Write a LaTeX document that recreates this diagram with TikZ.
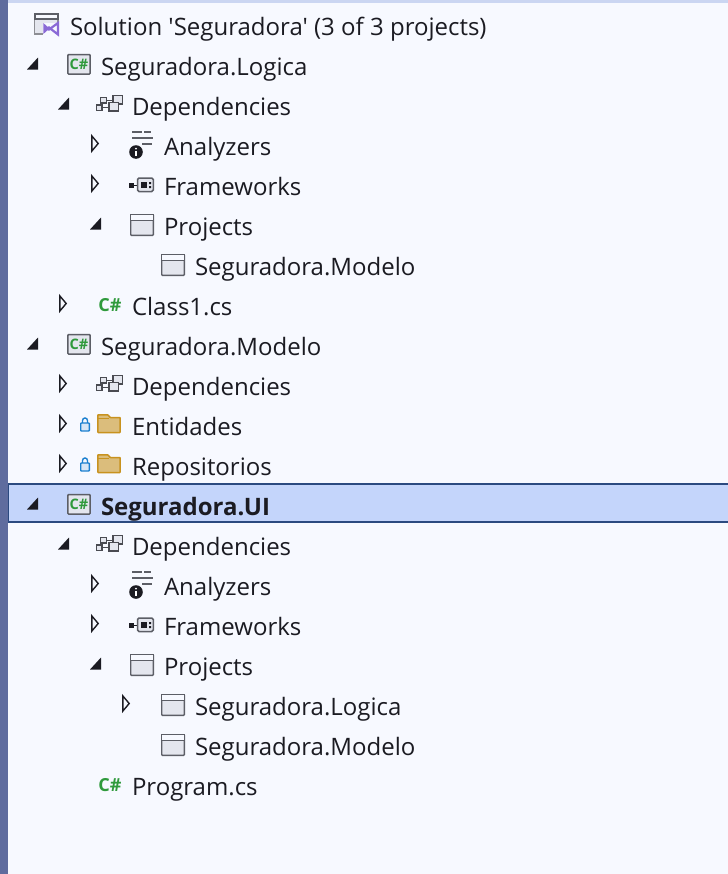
\documentclass[tikz,border=0pt]{standalone}
\usepackage{fontspec}
\setmainfont{Open Sans}[Ligatures=TeXOff]
\definecolor{bgc}{HTML}{F7F9FF}
\definecolor{barc}{HTML}{5F6C9E}
\definecolor{topc}{HTML}{CBD6F2}
\definecolor{selc}{HTML}{C4D5FB}
\definecolor{selb}{HTML}{2B4A80}
\definecolor{txt}{HTML}{1B1B22}
\definecolor{icon}{HTML}{5C5E66}
\definecolor{iconf}{HTML}{E4E6EE}
\definecolor{csg}{HTML}{2F9A3C}
\definecolor{vsp}{HTML}{8A6AD6}
\definecolor{fold}{HTML}{DBBD7C}
\definecolor{foldb}{HTML}{C8921F}
\definecolor{lockb}{HTML}{1C80D0}
\definecolor{lockf}{HTML}{D8E6F6}
\tikzset{
  x=1bp,y=-1bp,
  rowtext/.style={anchor=base west,inner sep=0pt,outer sep=0pt,text=txt,font=\fontsize{24bp}{28bp}\selectfont},
  opentri/.pic={\draw[txt,line width=1.4bp,fill=bgc,line join=miter] (0.8,-7.6)--(7.2,0)--(0.8,7.6)--cycle;},
  filltri/.pic={\fill[txt] (11,-6.5)--(11,5.5)--(0,5.5)--cycle;},
  winicon/.pic={
    \draw[icon,line width=1.4bp,fill=iconf,rounded corners=0.8bp] (0.7,-11.3) rectangle (23.3,9.3);
    \draw[icon,line width=1.4bp,fill=bgc] (0.7,-11.3) rectangle (23.3,-5.5);},
  csprojicon/.pic={
    \draw[icon,line width=1.5bp,fill=#1,rounded corners=0.8bp] (0.8,-10.3) rectangle (23.2,9);
    \node[inner sep=0pt,text=csg,font=\fontsize{14.5bp}{15bp}\selectfont\bfseries] at (12,-0.7) {C\#};},
  depicon/.pic={
    \draw[icon!80!black,line width=1.5bp,fill=iconf] (4.5,-8.5) rectangle (10.5,-3);
    \draw[icon!80!black,line width=1.5bp,fill=iconf] (17,-10.5) rectangle (26.5,-2);
    \draw[icon!80!black,line width=1.5bp] (10.5,-5.5)--(17,-5.5);
    \draw[icon!80!black,line width=1.5bp] (6,-3)--(6,-1);
    \draw[icon!80!black,line width=1.5bp,fill=iconf] (0.7,-1) rectangle (6,4.5);
    \draw[icon!80!black,line width=1.5bp] (6,1.5)--(13,1.5);
    \draw[icon!80!black,line width=1.5bp,fill=iconf] (13,-3.5) rectangle (22.5,5);},
  anaicon/.pic={
    \draw[icon,line width=1.3bp] (3,-14)--(13,-14) (15,-14)--(22,-14) (3,-8)--(24,-8) (13,-2)--(23,-2);
    \fill[txt] (7,6) circle (6.8);
    \fill[white] (7,2.6) circle (1.1);
    \fill[white] (6,4.6) rectangle (8,9.5);},
  fwicon/.pic={
    \fill[txt] (0,-3) rectangle (5,2);
    \draw[txt,line width=1.3bp] (5,-0.5)--(8.5,-0.5);
    \draw[icon,line width=1.5bp,fill=iconf,rounded corners=1.5bp] (8.5,-8) rectangle (24.3,5.5);
    \fill[txt] (12.3,-4) rectangle (18,2);
    \fill[txt] (20,-4) rectangle (22,-2) (20,0) rectangle (22,2);},
  vscsicon/.pic={
    \node[inner sep=0pt,text=csg,font=\fontsize{18bp}{19bp}\selectfont\bfseries] at (12,-1) {C\#};},
  foldericon/.pic={
    \draw[foldb,line width=1.5bp,fill=fold,rounded corners=0.6bp] (0.8,-10.2) -- (11,-10.2) -- (13,-7.5) -- (23.2,-7.5) -- (23.2,7.5) -- (0.8,7.5) -- cycle;
    \draw[foldb,line width=1.2bp] (0.8,-6.5)--(12,-6.5);},
  lockicon/.pic={
    \draw[lockb,line width=1.4bp] (2.5,-2)--(2.5,-4.5) arc[start angle=180,end angle=360,radius=2.5] -- (7.5,-2);
    \draw[lockb,line width=1.4bp,fill=lockf,rounded corners=0.6bp] (0.7,-2) rectangle (9.3,6);},
  solicon/.pic={
    \draw[icon!70!white,line width=1.3bp,fill=iconf] (0.7,-12.3) rectangle (24,8);
    \draw[icon,line width=1.6bp,fill=bgc] (0.7,-12.3) rectangle (24,-7);
    \fill[bgc] (9,-3) rectangle (26,11);
    \draw[vsp,line width=2.2bp,line join=miter] (10.5,-0.5)--(15,3.5)--(24,-3)--(24,8.5)--(15,1.5)--(10.5,5.5)--cycle;},
}
\begin{document}
\begin{tikzpicture}
\useasboundingbox (0,0) rectangle (728,874);
\fill[bgc] (0,0) rectangle (728,874);
\fill[topc] (8,0) rectangle (728,3);
\fill[barc] (0,0) rectangle (8,874);
\draw[selb,line width=1.3bp,fill=selc] (8.6,484) rectangle (730,522);
% solution
\pic at (34,26) {solicon};
\node[rowtext] (t01) at (70,35) {Solution 'Seguradora' (3 of 3 projects)};
% Logica
\pic at (27,64) {filltri};
\pic at (67,65) {csprojicon=iconf};
\node[rowtext] (t02) at (101,75) {Seguradora.Logica};
\pic at (58,104) {filltri};
\pic at (96,106) {depicon};
\node[rowtext] (t03) at (132,115) {Dependencies};
\pic at (91,143.5) {opentri};
\pic at (129,146) {anaicon};
\node[rowtext] (t04) at (164,155) {Analyzers};
\pic at (91,183.5) {opentri};
\pic at (129,186) {fwicon};
\node[rowtext] (t05) at (164,195) {Frameworks};
\pic at (90,224) {filltri};
\pic at (130,226) {winicon};
\node[rowtext] (t06) at (164,235) {Projects};
\pic at (161,266) {winicon};
\node[rowtext] (t07) at (195,275) {Seguradora.Modelo};
\pic at (59,303.5) {opentri};
\pic at (98,306) {vscsicon};
\node[rowtext] (t08) at (132,315) {Class1.cs};
% Modelo
\pic at (27,344) {filltri};
\pic at (67,345) {csprojicon=iconf};
\node[rowtext] (t09) at (101,355) {Seguradora.Modelo};
\pic at (59,383.5) {opentri};
\pic at (96,386) {depicon};
\node[rowtext] (t10) at (132,395) {Dependencies};
\pic at (59,423.5) {opentri};
\pic at (80,425) {lockicon};
\pic at (97,425) {foldericon};
\node[rowtext] (t11) at (132,435) {Entidades};
\pic at (59,463.5) {opentri};
\pic at (80,465) {lockicon};
\pic at (97,465) {foldericon};
\node[rowtext] (t12) at (132,475) {Repositorios};
% UI
\pic at (27,504) {filltri};
\pic at (67,505) {csprojicon=iconf};
\node[rowtext,font=\fontsize{24bp}{28bp}\selectfont\bfseries] (t13) at (101,515) {Seguradora.UI};
\pic at (58,544) {filltri};
\pic at (96,546) {depicon};
\node[rowtext] (t14) at (132,555) {Dependencies};
\pic at (91,583.5) {opentri};
\pic at (129,586) {anaicon};
\node[rowtext] (t15) at (164,595) {Analyzers};
\pic at (91,623.5) {opentri};
\pic at (129,626) {fwicon};
\node[rowtext] (t16) at (164,635) {Frameworks};
\pic at (90,664) {filltri};
\pic at (130,666) {winicon};
\node[rowtext] (t17) at (164,675) {Projects};
\pic at (122,703.5) {opentri};
\pic at (161,706) {winicon};
\node[rowtext] (t18) at (195,715) {Seguradora.Logica};
\pic at (161,746) {winicon};
\node[rowtext] (t19) at (195,755) {Seguradora.Modelo};
\pic at (98,786) {vscsicon};
\node[rowtext] (t20) at (132,795) {Program.cs};
\end{tikzpicture}
\end{document}
